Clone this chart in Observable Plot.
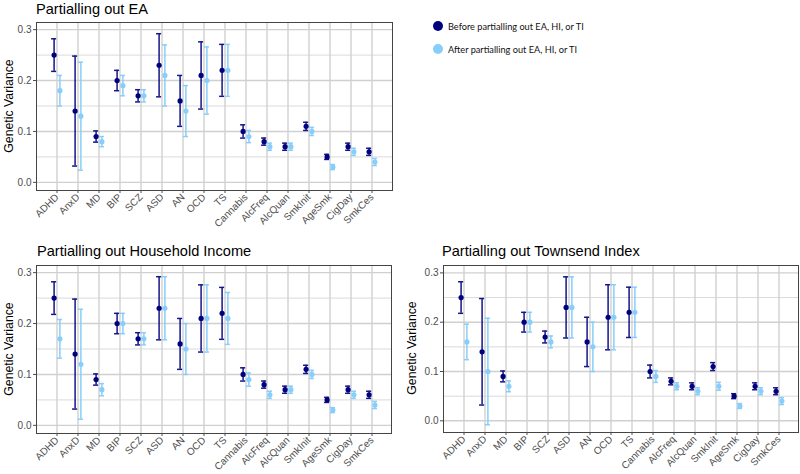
<!DOCTYPE html>
<html>
<head>
<meta charset="utf-8">
<script src="https://cdn.jsdelivr.net/npm/d3@7"></script>
<script src="https://cdn.jsdelivr.net/npm/@observablehq/plot@0.6"></script>
<style>
  html, body { margin: 0; padding: 0; background: #fff; }
  #wrap { position: relative; width: 800px; height: 474px; overflow: hidden; font-family: "Liberation Sans", Arial, sans-serif; }
  .panel { position: absolute; }
  .panel svg text { font-family: "Liberation Sans", Arial, sans-serif; }
  .title { position: absolute; font-size: 14.6px; color: #000; white-space: nowrap; line-height: 1; }
  .ylab { position: absolute; font-size: 12.3px; color: #000; white-space: nowrap; line-height: 1; transform: translate(-50%, -50%) rotate(-90deg); }
  .legend { position: absolute; font-family: Lato, "Open Sans", sans-serif; font-size: 9.2px; color: #111; white-space: nowrap; }
  .legend .item { position: absolute; display: flex; align-items: center; }
  .legend .sw { width: 10px; height: 10px; border-radius: 50%; margin-right: 5px; }
</style>
</head>
<body>
<div id="wrap"></div>
<script>
// ---------- data ----------
const categories = ["ADHD","AnxD","MD","BIP","SCZ","ASD","AN","OCD","TS","Cannabis","AlcFreq","AlcQuan","SmkInit","AgeSmk","CigDay","SmkCes"];

const beforeEst = [0.25,0.14,0.09,0.20,0.17,0.23,0.16,0.21,0.22,0.10,0.08,0.07,0.11,0.05,0.07,0.06];
const beforeLo  = [0.218,0.032,0.079,0.18,0.158,0.168,0.11,0.144,0.169,0.087,0.073,0.063,0.102,0.045,0.063,0.053];
const beforeHi  = [0.282,0.248,0.101,0.22,0.182,0.292,0.21,0.276,0.271,0.113,0.087,0.077,0.118,0.055,0.077,0.067];

const eaEst = [0.18,0.13,0.08,0.19,0.17,0.21,0.14,0.20,0.22,0.09,0.07,0.07,0.10,0.03,0.06,0.04];
const eaLo  = [0.15,0.024,0.07,0.17,0.158,0.15,0.09,0.134,0.169,0.078,0.063,0.063,0.092,0.025,0.053,0.033];
const eaHi  = [0.21,0.236,0.09,0.21,0.182,0.27,0.19,0.266,0.271,0.102,0.077,0.077,0.108,0.035,0.067,0.047];

const hiEst = [0.17,0.12,0.07,0.20,0.17,0.23,0.15,0.21,0.21,0.09,0.06,0.07,0.10,0.03,0.06,0.04];
const hiLo  = [0.132,0.012,0.058,0.18,0.158,0.168,0.10,0.144,0.159,0.077,0.053,0.063,0.092,0.025,0.053,0.033];
const hiHi  = [0.208,0.228,0.082,0.22,0.182,0.292,0.20,0.276,0.261,0.103,0.067,0.077,0.108,0.035,0.067,0.047];

const tiEst = [0.16,0.10,0.07,0.20,0.16,0.23,0.15,0.21,0.22,0.09,0.07,0.06,0.07,0.03,0.06,0.04];
const tiLo  = [0.124,-0.008,0.059,0.18,0.148,0.168,0.10,0.144,0.169,0.078,0.063,0.053,0.062,0.025,0.053,0.033];
const tiHi  = [0.196,0.208,0.081,0.22,0.172,0.292,0.20,0.276,0.271,0.102,0.077,0.067,0.078,0.035,0.067,0.047];

const yTicks = [0, 0.1, 0.2, 0.3];
const yMinor = [0.05, 0.15, 0.25];

const seriesNames = ["Before partialling out EA, HI, or TI", "After partialling out EA, HI, or TI"];
const panelTitles = ["Partialling out EA", "Partialling out Household Income", "Partialling out Townsend Index"];
const yLabel = "Genetic Variance";

// ---------- styles ----------
const DARK = "#00007f";
const DARK_BAR = "#15158a";
const LIGHT = "#87cefa";
const GRID = "#d0d0d0";

function rows(est, lo, hi) {
  return categories.map((c, i) => ({cat: c, est: est[i], lo: lo[i], hi: hi[i]}));
}

function makePanel({after, yDomain, width, height, mt, mr, mb, ml}) {
  const before = rows(beforeEst, beforeLo, beforeHi);
  const aft = rows(after[0], after[1], after[2]);
  const capHalf = 3;
  const off = 2.9;
  const step = (width - ml - mr) / (categories.length + 0.2);
  const inset = step / 2 - capHalf;
  const series = [[before, DARK, DARK_BAR, -off], [aft, LIGHT, LIGHT, off]];
  const marks = [
    Plot.ruleY(yMinor, {y: d => d, stroke: GRID, strokeWidth: 0.8}),
    Plot.ruleY(yTicks, {y: d => d, stroke: GRID, strokeWidth: 1.4}),
    Plot.ruleX(categories, {x: d => d, stroke: GRID, strokeWidth: 1.4}),
  ];
  for (const [data, dot, bar, dx] of series) {
    marks.push(
      Plot.ruleX(data, {x: "cat", y1: "lo", y2: "hi", stroke: bar, strokeWidth: 1.5, dx}),
      Plot.tickY(data, {x: "cat", y: "lo", stroke: bar, strokeWidth: 1.5, dx, insetLeft: inset, insetRight: inset}),
      Plot.tickY(data, {x: "cat", y: "hi", stroke: bar, strokeWidth: 1.5, dx, insetLeft: inset, insetRight: inset}),
      Plot.dot(data, {x: "cat", y: "est", fill: dot, r: 2.6, dx})
    );
  }
  marks.push(
    Plot.frame({stroke: "#444", strokeWidth: 1, fill: "none"}),
    Plot.axisY({ticks: yTicks, tickFormat: d3.format(".1f"), tickSize: 3, tickPadding: 2, fontSize: 10,
                color: "#4d4d4d", label: null}),
    Plot.axisX({tickRotate: -45, tickSize: 3, tickPadding: 2, fontSize: 10, label: null, color: "#4d4d4d"})
  );
  return Plot.plot({
    width, height,
    marginTop: mt, marginRight: mr, marginBottom: mb, marginLeft: ml,
    style: {fontFamily: "Liberation Sans, Arial, sans-serif", overflow: "visible"},
    x: {type: "band", domain: categories, paddingInner: 0, paddingOuter: 0.1},
    y: {domain: yDomain},
    marks
  });
}

const wrap = document.getElementById("wrap");
function place(node, left, top) {
  const d = document.createElement("div");
  d.className = "panel";
  d.style.left = left + "px";
  d.style.top = top + "px";
  d.appendChild(node);
  wrap.appendChild(d);
}
function text(cls, str, left, top) {
  const t = document.createElement("div");
  t.className = cls;
  t.textContent = str;
  t.style.left = left + "px";
  t.style.top = top + "px";
  wrap.appendChild(t);
}

place(makePanel({after: [eaEst, eaLo, eaHi], yDomain: [-0.016, 0.314], width: 400, height: 240, mt: 22, mr: 8, mb: 50, ml: 36}), 0, 0);
place(makePanel({after: [hiEst, hiLo, hiHi], yDomain: [-0.016, 0.314], width: 400, height: 234, mt: 25, mr: 9, mb: 41, ml: 36}), 0, 240);
place(makePanel({after: [tiEst, tiLo, tiHi], yDomain: [-0.0237, 0.315], width: 400, height: 234, mt: 25, mr: 2, mb: 42, ml: 43}), 400, 240);

text("title", panelTitles[0], 36, 2);
text("title", panelTitles[1], 37, 244);
text("title", panelTitles[2], 442, 244);

text("ylab", yLabel, 9, 106);
text("ylab", yLabel, 9, 349);
text("ylab", yLabel, 412, 348);

// legend
const leg = document.createElement("div");
leg.className = "legend";
leg.style.left = "433px";
leg.style.top = "0px";
[[seriesNames[0], DARK, 26], [seriesNames[1], LIGHT, 49]].forEach(([name, col, cy]) => {
  const it = document.createElement("div");
  it.className = "item";
  it.style.left = "0px";
  it.style.top = (cy - 7) + "px";
  it.style.height = "14px";
  const sw = document.createElement("span");
  sw.className = "sw";
  sw.style.background = col;
  const tx = document.createElement("span");
  tx.textContent = name;
  it.appendChild(sw); it.appendChild(tx);
  leg.appendChild(it);
});
wrap.appendChild(leg);
</script>
</body>
</html>
